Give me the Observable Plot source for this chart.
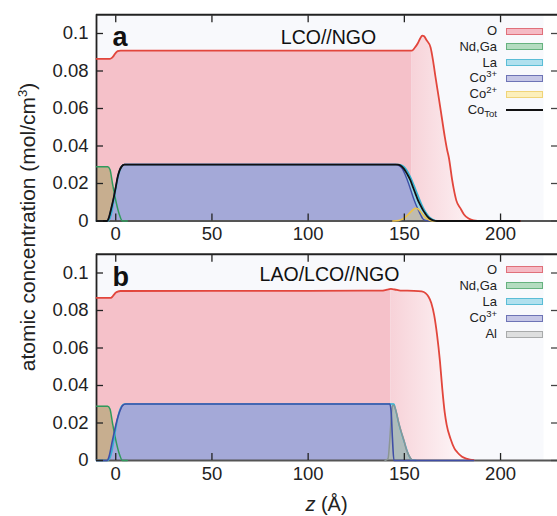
<!DOCTYPE html>
<html><head><meta charset="utf-8">
<script src="https://cdn.jsdelivr.net/npm/d3@7"></script>
<script src="https://cdn.jsdelivr.net/npm/@observablehq/plot@0.6"></script>
<style>
body{margin:0;background:#fff;font-family:"Liberation Sans",Arial,Helvetica,sans-serif;color:#222}
#wrap{position:relative;width:557px;height:516px;overflow:hidden}
#wrap svg{display:block}
.lg{position:absolute;font-size:13px;line-height:12px;height:12px;text-align:right;white-space:nowrap;color:#222}
.lg sup{font-size:9.5px;vertical-align:0;position:relative;top:-5px;line-height:0}
.lg sub{font-size:9.5px;vertical-align:0;position:relative;top:3px;line-height:0}
.sw{position:absolute;box-sizing:border-box;border:1px solid}
.ylab{position:absolute;left:28px;top:227px;transform:translate(-50%,-50%) rotate(-90deg);white-space:nowrap;font-size:21px;color:#222}
.ylab sup{font-size:13px;vertical-align:0;position:relative;top:-8px;line-height:0}
.xlab{position:absolute;left:326.5px;top:504px;transform:translate(-50%,-50%);white-space:nowrap;font-size:20px;color:#222}
</style></head><body>
<div id="wrap"></div>
<script>
// ---------- ticks ----------
const xTicks = [0, 50, 100, 150, 200];
const yTicks = [0, 0.02, 0.04, 0.06, 0.08, 0.1];

// ---------- panel a : LCO//NGO ----------
const zO_a = [-10,-3,-2,-1,0,1,2.5,150,154,155.5,157,158.3,159.3,160.3,161.5,163.6,165,166.2,168,169.7,171,172.3,173.1,174.9,175.6,177,179.2,181,183.4,186,190,210];
const O_a  = [0.0865,0.0865,0.0870,0.0882,0.0897,0.0906,0.0909,0.0909,0.0909,0.0925,0.0948,0.0975,0.0989,0.0985,0.0965,0.0927,0.0850,0.0767,0.0650,0.0536,0.0450,0.0376,0.0340,0.0216,0.0175,0.0110,0.0067,0.0035,0.0013,0.0003,0,0];
const zNd  = [-10,-4.2,-3,-1.7,0,1.7,3.5,6];
const Nd   = [0.029,0.029,0.0275,0.020,0.011,0.004,0,0];
const zLa_a = [-10,-4,-3,-2,-1,0,1,2,3,4.5,147,149,151,153,155,157,159,161,163,165,167,168.5];
const La_a  = [0,0,0.0015,0.005,0.011,0.017,0.0225,0.0265,0.0288,0.0301,0.0301,0.0295,0.0275,0.0238,0.019,0.0138,0.0088,0.0048,0.0021,0.0007,0.0001,0];
const zCo3_a = [-10,-4.5,-3.5,-2.5,-1,0,1,2,3,4.5,145.5,147,148.9,150.5,152.2,153.5,154.8,156,157.4,158.5,159.5,161,163];
const Co3_a  = [0,0,0.002,0.006,0.0127,0.018,0.0235,0.027,0.029,0.0301,0.0301,0.0296,0.028,0.0245,0.020,0.016,0.012,0.0088,0.0056,0.0032,0.0013,0.0003,0];
const zCo2_a = [144,147,149,151,153,154.5,155.8,157,158.3,159.5,161,162.5,164,166];
const Co2_a  = [0,0.0003,0.001,0.0025,0.0045,0.006,0.0068,0.0065,0.0052,0.0036,0.0019,0.0008,0.0002,0];
const zTot_a = [-10,-4.5,-3.5,-2.5,-1,0,1,2,3,4.5,146.5,148,149.8,151.5,153.2,154.5,155.8,157,158.4,159.7,161,162.3,163.6,165,167,210];
const Tot_a  = [0,0,0.002,0.006,0.0127,0.018,0.0235,0.027,0.029,0.0301,0.0301,0.0296,0.0278,0.025,0.0216,0.018,0.0145,0.0113,0.0083,0.0058,0.0038,0.0021,0.001,0.0003,0,0];

// ---------- panel b : LAO/LCO//NGO ----------
const zO_b = [-10,-3,-2,-1,0,1,2.5,100,138,141,143,145,148,155,159,161,162.5,164,165.5,167,168.5,169.7,171,172,174,176,177.5,180,182.7,186];
const O_b  = [0.0867,0.0867,0.0871,0.0883,0.0895,0.0901,0.0904,0.0905,0.0906,0.0911,0.0915,0.0912,0.0906,0.0905,0.0902,0.0893,0.0875,0.0840,0.0775,0.0670,0.0530,0.0385,0.0255,0.0190,0.0116,0.0065,0.0044,0.0020,0.0009,0.0002];
const zLa_b = [-10,-4,-3,-2,-1,0,1,2,3,4.5,144.5,145.5,147.2,149.8,152.4,154,156];
const La_b  = [0,0,0.0015,0.005,0.011,0.017,0.0225,0.0265,0.0288,0.0301,0.0301,0.027,0.0194,0.0105,0.0026,0.0003,0];
const zCo3_b = [-10,-4.5,-3.5,-1.7,0.9,2.2,3.5,5.2,142.5,143.2,143.8,144.6,186];
const Co3_b  = [0,0,0.002,0.0107,0.0224,0.0265,0.0293,0.0301,0.0301,0.025,0.012,0,0];
const zAl_b = [140,141.5,142.5,143.3,144,144.6,145.5,147.2,148.5,149.8,151,152.4,154,156];
const Al_b  = [0,0.001,0.012,0.025,0.0295,0.0293,0.027,0.0196,0.015,0.0107,0.006,0.0027,0.0003,0];

// ---------- legends ----------
const legendA = ["O","Nd,Ga","La","Co<sup>3+</sup>","Co<sup>2+</sup>","Co<sub>Tot</sub>"];
const legendB = ["O","Nd,Ga","La","Co<sup>3+</sup>","Al"];

// ---------- styling ----------
const COL = {
  Ofill:"#f5c1c9", Oline:"#e2463c",
  Ndfill:"#c7ae8f", Ndline:"#2f9a5c",
  Lafill:"#98d4e4", Laline:"#35b3d3",
  Cofill:"#a4a9d8", Coline:"#3f4ea6",
  Co2fill:"rgba(196,190,168,0.85)", Co2line:"#ebc24b",
  Alfill:"rgba(176,184,182,0.9)", Alline:"#8a9595",
  Tot:"#111"
};
const SW = {
  "O":["#f5bac4","#e0707a"], "Nd,Ga":["#b4dcc0","#66b27f"], "La":["#b0e0ee","#5bbdd6"],
  "Co<sup>3+</sup>":["#c6c7e6","#6e74b6"], "Co<sup>2+</sup>":["#fcefba","#f0d478"], "Al":["#dedfdf","#a9abab"]
};
const FRAME = "#222", BG = "#f8f9fc";
const rows = (zs, vs) => zs.map((z, i) => ({z, v: vs[i]}));
const curve = "monotone-x";

function gradDefs(id, z0, z1) {
  return (index, scales) => {
    const defs = d3.create("svg:defs");
    const g = defs.append("linearGradient").attr("id", id).attr("gradientUnits", "userSpaceOnUse")
      .attr("x1", scales.x(z0)).attr("x2", scales.x(z1)).attr("y1", 0).attr("y2", 0);
    g.append("stop").attr("offset", 0).attr("stop-color", "#f7d2d8");
    g.append("stop").attr("offset", 1).attr("stop-color", "#fdf4f6");
    return defs.node();
  };
}
function frameRules() {
  return [
    Plot.ruleX([-10], {stroke: FRAME, strokeWidth: 1.8}),
    Plot.ruleY([0.11], {stroke: FRAME, strokeWidth: 1.8}),
    Plot.ruleY([0], {stroke: "#555", strokeWidth: 1.8})
  ];
}
function axes() {
  return [
    Plot.axisY({anchor:"left", ticks:yTicks, tickSize:7, dx:7, fill:"none", stroke:FRAME, strokeWidth:1.3, label:null}),
    Plot.axisY({anchor:"right", ticks:yTicks, tickSize:7, dx:-7, fill:"none", stroke:"#444", strokeWidth:1.3, label:null}),
    Plot.axisY({anchor:"left", ticks:yTicks, tickSize:0, tickPadding:8, tickFormat:d => String(d), fill:"#222", label:null}),
    Plot.axisX({anchor:"top", ticks:xTicks, tickSize:7, dy:7, fill:"none", stroke:FRAME, strokeWidth:1.3, label:null}),
    Plot.axisX({anchor:"bottom", ticks:xTicks, tickSize:7, dy:-7, fill:"none", stroke:FRAME, strokeWidth:1.3, label:null}),
    Plot.axisX({anchor:"bottom", ticks:xTicks, tickSize:0, tickPadding:6, fill:"#222", label:null})
  ];
}
const common = {
  width: 557, marginLeft: 96, marginRight: 0,
  x: {domain: [-10, 229.6]}, y: {domain: [0, 0.11]},
  style: {fontFamily: '"Liberation Sans",Arial,Helvetica,sans-serif', fontSize: "18.5px", color: "#222", background: "transparent"}
};

const OA = rows(zO_a, O_a), OB = rows(zO_b, O_b);
const splitA = 154, splitB = 143;

const plotA = Plot.plot({
  ...common, height: 246, marginTop: 14.25, marginBottom: 25.5,
  marks: [
    Plot.frame({fill: BG, stroke: "none", insetRight: 14}),
    gradDefs("gA", 153, 188),
    Plot.areaY(OA.filter(d => d.z <= splitA), {x:"z", y:"v", fill: COL.Ofill, curve}),
    Plot.areaY(OA.filter(d => d.z >= splitA), {x:"z", y:"v", fill: "url(#gA)", curve}),
    Plot.areaY(rows(zNd, Nd), {x:"z", y:"v", fill: COL.Ndfill, curve}),
    Plot.areaY(rows(zLa_a, La_a), {x:"z", y:"v", fill: COL.Lafill, curve}),
    Plot.areaY(rows(zCo3_a, Co3_a), {x:"z", y:"v", fill: COL.Cofill, curve}),
    Plot.areaY(rows(zCo2_a, Co2_a), {x:"z", y:"v", fill: COL.Co2fill, curve}),
    ...frameRules(),
    Plot.line(OA, {x:"z", y:"v", stroke: COL.Oline, strokeWidth: 1.8, curve}),
    Plot.line(rows(zNd, Nd), {x:"z", y:"v", stroke: COL.Ndline, strokeWidth: 1.5, curve}),
    Plot.line(rows(zLa_a, La_a), {x:"z", y:"v", stroke: COL.Laline, strokeWidth: 1.6, curve}),
    Plot.line(rows(zCo3_a, Co3_a), {x:"z", y:"v", stroke: COL.Coline, strokeWidth: 1.4, curve}),
    Plot.line(rows(zCo2_a, Co2_a), {x:"z", y:"v", stroke: COL.Co2line, strokeWidth: 1.6, curve}),
    Plot.line(rows(zTot_a, Tot_a), {x:"z", y:"v", stroke: COL.Tot, strokeWidth: 1.8, curve}),
    ...axes(),
    Plot.text(["a"], {text: d => d, frameAnchor:"top-left", dx:16, dy:31, textAnchor:"start", lineAnchor:"bottom", fontSize:27, fontWeight:"bold", fill:"#111"}),
    Plot.text(["LCO//NGO"], {text: d => d, frameAnchor:"top-left", dx:232, dy:29, textAnchor:"middle", lineAnchor:"bottom", fontSize:19.5, fill:"#111"})
  ]
});

const plotB = Plot.plot({
  ...common, height: 270, marginTop: 7.75, marginBottom: 56,
  marks: [
    Plot.frame({fill: BG, stroke: "none", insetRight: 14}),
    gradDefs("gB", 143, 178),
    Plot.areaY(OB.filter(d => d.z <= splitB), {x:"z", y:"v", fill: COL.Ofill, curve}),
    Plot.areaY(OB.filter(d => d.z >= splitB), {x:"z", y:"v", fill: "url(#gB)", curve}),
    Plot.areaY(rows(zNd, Nd), {x:"z", y:"v", fill: COL.Ndfill, curve}),
    Plot.areaY(rows(zLa_b, La_b), {x:"z", y:"v", fill: COL.Lafill, curve}),
    Plot.areaY(rows(zCo3_b, Co3_b), {x:"z", y:"v", fill: COL.Cofill, curve}),
    Plot.areaY(rows(zAl_b, Al_b), {x:"z", y:"v", fill: COL.Alfill, curve}),
    ...frameRules(),
    Plot.line(OB, {x:"z", y:"v", stroke: COL.Oline, strokeWidth: 1.8, curve}),
    Plot.line(rows(zNd, Nd), {x:"z", y:"v", stroke: COL.Ndline, strokeWidth: 1.5, curve}),
    Plot.line(rows(zLa_b, La_b), {x:"z", y:"v", stroke: COL.Laline, strokeWidth: 1.6, curve}),
    Plot.line(rows(zAl_b, Al_b), {x:"z", y:"v", stroke: COL.Alline, strokeWidth: 1.5, curve}),
    Plot.line(rows(zCo3_b, Co3_b), {x:"z", y:"v", stroke: COL.Coline, strokeWidth: 1.6, curve}),
    ...axes(),
    Plot.text(["b"], {text: d => d, frameAnchor:"top-left", dx:16, dy:31.25, textAnchor:"start", lineAnchor:"bottom", fontSize:27, fontWeight:"bold", fill:"#111"}),
    Plot.text(["LAO/LCO//NGO"], {text: d => d, frameAnchor:"top-left", dx:233, dy:26.25, textAnchor:"middle", lineAnchor:"bottom", fontSize:19.5, fill:"#111"})
  ]
});

const wrap = document.getElementById("wrap");
wrap.append(plotA, plotB);

function legend(items, y0, step) {
  items.forEach((lab, i) => {
    const yc = y0 + i * step;
    const t = document.createElement("div");
    t.className = "lg";
    t.style.right = "60px";
    t.style.top = (yc - 6) + "px";
    t.innerHTML = lab;
    wrap.append(t);
    const s = document.createElement("div");
    s.className = "sw";
    s.style.left = "506px"; s.style.width = "37px";
    if (SW[lab]) {
      s.style.top = (yc - 3.5) + "px"; s.style.height = "7px";
      s.style.background = SW[lab][0]; s.style.borderColor = SW[lab][1];
    } else {
      s.style.top = (yc - 1) + "px"; s.style.height = "2px";
      s.style.border = "none"; s.style.background = "#111";
    }
    wrap.append(s);
  });
}
legend(legendA, 31, 15.8);
legend(legendB, 269.5, 16.2);

const yl = document.createElement("div");
yl.className = "ylab";
yl.innerHTML = "atomic concentration (mol/cm<sup>3</sup>)";
wrap.append(yl);
const xl = document.createElement("div");
xl.className = "xlab";
xl.innerHTML = "<i>z</i> (Å)";
wrap.append(xl);
</script>
</body></html>
